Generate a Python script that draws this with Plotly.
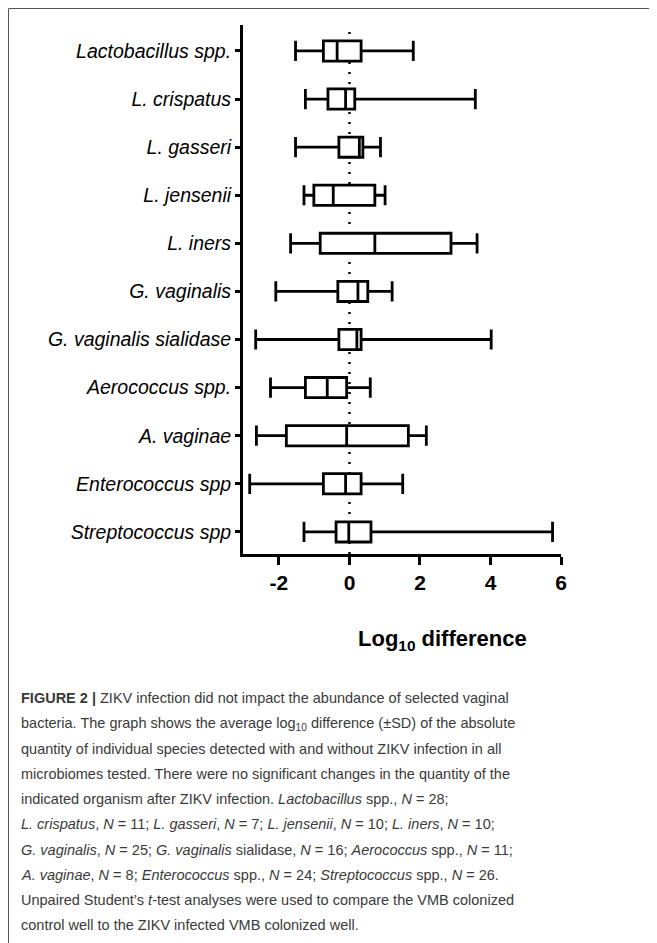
import plotly.graph_objects as go

categories = ["Lactobacillus spp.", "L. crispatus", "L. gasseri", "L. jensenii", "L. iners",
              "G. vaginalis", "G. vaginalis sialidase", "Aerococcus spp.", "A. vaginae",
              "Enterococcus spp", "Streptococcus spp"]
whisker_low = [-1.53, -1.25, -1.53, -1.29, -1.67, -2.09, -2.66, -2.24, -2.64, -2.83, -1.29]
box_low = [-0.74, -0.61, -0.30, -1.01, -0.83, -0.33, -0.30, -1.25, -1.79, -0.74, -0.38]
center = [-0.35, -0.11, 0.28, -0.46, 0.72, 0.24, 0.21, -0.63, -0.08, -0.11, -0.02]
box_high = [0.33, 0.15, 0.38, 0.72, 2.88, 0.52, 0.33, -0.08, 1.67, 0.33, 0.61]
whisker_high = [1.81, 3.57, 0.88, 1.01, 3.62, 1.21, 4.02, 0.59, 2.18, 1.51, 5.76]
x_ticks = [-2, 0, 2, 4, 6]

caption_lines = [
    "<b>FIGURE 2 |</b> ZIKV infection did not impact the abundance of selected vaginal",
    "bacteria. The graph shows the average log<sub>10</sub> difference (±SD) of the absolute",
    "quantity of individual species detected with and without ZIKV infection in all",
    "microbiomes tested. There were no significant changes in the quantity of the",
    "indicated organism after ZIKV infection. <i>Lactobacillus</i> spp., <i>N</i> = 28;",
    "<i>L. crispatus</i>, <i>N</i> = 11; <i>L. gasseri</i>, <i>N</i> = 7; <i>L. jensenii</i>, <i>N</i> = 10; <i>L. iners</i>, <i>N</i> = 10;",
    "<i>G. vaginalis</i>, <i>N</i> = 25; <i>G. vaginalis</i> sialidase, <i>N</i> = 16; <i>Aerococcus</i> spp., <i>N</i> = 11;",
    "<i>A. vaginae</i>, <i>N</i> = 8; <i>Enterococcus</i> spp., <i>N</i> = 24; <i>Streptococcus</i> spp., <i>N</i> = 26.",
    "Unpaired Student’s <i>t</i>-test analyses were used to compare the VMB colonized",
    "control well to the ZIKV infected VMB colonized well.",
]

# page body has an 8px margin; figure drawn 8px in from the page corner
OFF = 8
W, H = 657 - OFF, 943 - OFF
L, T = 243 - OFF, 25 - OFF
R = W - (561 - OFF)
B = H - (554 - OFF)
pw, ph = W - L - R, H - T - B


def px(x):
    return (x - OFF - L) / pw


def py(y):
    return (H - B - (y - OFF)) / ph


fig = go.Figure()
fig.add_trace(go.Box(
    y=categories, orientation="h",
    q1=box_low, median=center, q3=box_high,
    lowerfence=whisker_low, upperfence=whisker_high,
    fillcolor="white", line=dict(color="black", width=2.8),
    whiskerwidth=1, width=0.42, boxpoints=False, showlegend=False,
    hoverinfo="x",
))

fig.add_shape(type="line", xref="x", yref="paper", x0=0, x1=0, y0=0, y1=1,
              line=dict(color="black", width=2.5, dash="2px,8px"), layer="below")

# figure frame
fig.add_shape(type="line", xref="paper", yref="paper", x0=px(8.5), x1=px(700), y0=py(8.5), y1=py(8.5),
              line=dict(color="#555555", width=1))
fig.add_shape(type="line", xref="paper", yref="paper", x0=px(8.5), x1=px(8.5), y0=py(8.5), y1=py(960),
              line=dict(color="#555555", width=1))

fig.add_annotation(xref="paper", yref="paper", x=px(442), y=py(640),
                   text="<b>Log<sub>10</sub> difference</b>", showarrow=False,
                   font=dict(family="Liberation Sans, Arial, sans-serif", size=22, color="black"),
                   xanchor="center", yanchor="middle")

cap_font = "Liberation Sans, Arial, sans-serif"
for i, line in enumerate(caption_lines):
    fig.add_annotation(xref="paper", yref="paper", x=px(19), y=py(698.3 + i * 25.2),
                       text=line, showarrow=False, align="left",
                       font=dict(family=cap_font, size=14.5, color="#3a3a3a"),
                       xanchor="left", yanchor="middle")

fig.update_layout(
    width=W, height=H,
    margin=dict(l=L, r=R, t=T, b=B, autoexpand=False),
    paper_bgcolor="white", plot_bgcolor="white",
    xaxis=dict(range=[-3.02, 6.0], tickvals=x_ticks, ticktext=[str(v) for v in x_ticks],
               showline=True, linecolor="black", linewidth=3, ticks="outside",
               ticklen=8, tickwidth=3, tickcolor="black", showgrid=False, zeroline=False,
               tickfont=dict(family="Liberation Sans, Arial, sans-serif", size=21, color="black",
                             weight="bold")),
    yaxis=dict(type="category", categoryorder="array", categoryarray=categories,
               range=[10.46, -0.54], showline=True, linecolor="black", linewidth=3,
               ticks="outside", ticklen=5, tickwidth=3, tickcolor="black", showgrid=False,
               tickfont=dict(family="Liberation Sans, Arial, sans-serif", size=19.5, color="black",
                             style="italic")),
)

fig.write_html("out.html")
